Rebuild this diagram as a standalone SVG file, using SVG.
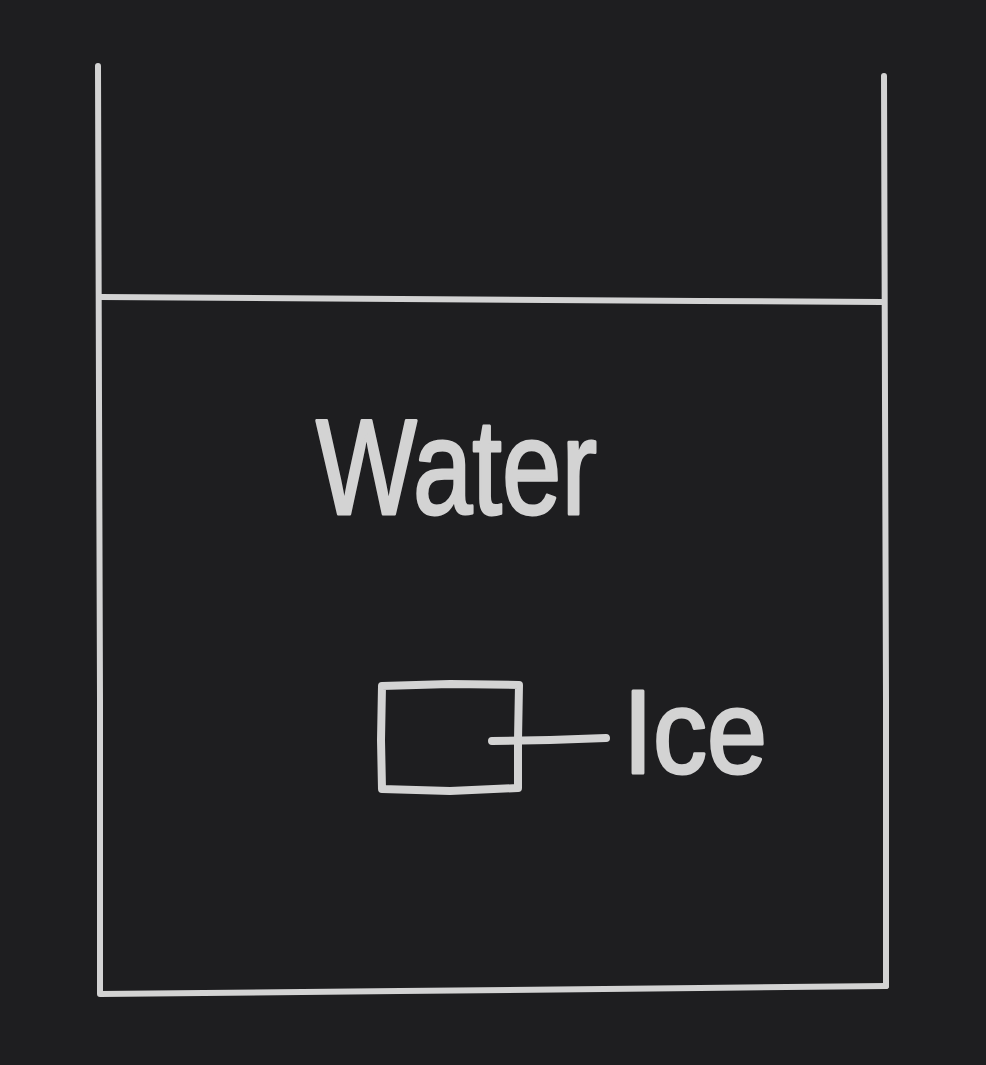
<svg xmlns="http://www.w3.org/2000/svg" width="986" height="1065" viewBox="0 0 986 1065">
<style>
.ln{fill:none;stroke:#d3d3d3;stroke-width:6;stroke-linecap:round;stroke-linejoin:round}
.thick{stroke-width:8}
.lbl{fill:#d3d3d3;stroke:#d3d3d3;stroke-width:3;stroke-linejoin:round;font-family:"Liberation Sans",Arial,sans-serif}
</style>
<rect width="986" height="1065" fill="#1e1e20"/>
<g id="container">
<polyline class="ln" points="98,66 99,400 100,700 100,994 400,991 700,988 886,986"/>
<polyline class="ln" points="884,76 885,400 886,700 886,986"/>
</g>
<g id="water">
<polyline class="ln" points="100,297 400,299 700,301 882,302"/>
<text class="lbl" x="316" y="514" font-size="136" textLength="281" lengthAdjust="spacingAndGlyphs">Water</text>
</g>
<g id="ice">
<polyline class="ln thick" points="382,686 450,684 519,685 518,740 518,788 450,791 382,789 381,740 382,686"/>
<text class="lbl" x="623" y="773" font-size="118" textLength="144" lengthAdjust="spacingAndGlyphs">Ice</text>
</g>
<g id="connectors">
<polyline class="ln thick" points="492,741 550,740 606,738"/>
</g>
</svg>
